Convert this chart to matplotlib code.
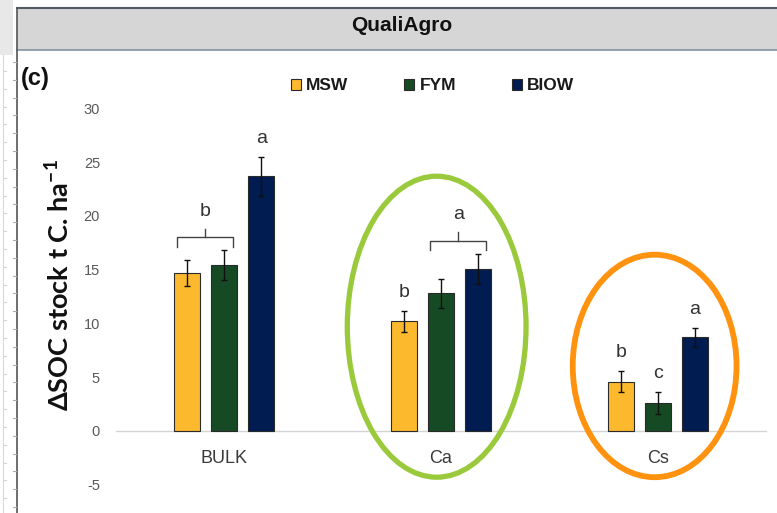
import numpy as np
import matplotlib
matplotlib.use('Agg')
import matplotlib.pyplot as plt
from matplotlib.patches import Ellipse, Rectangle
from matplotlib.lines import Line2D

plt.rcParams['font.family'] = ['Liberation Sans', 'DejaVu Sans']
plt.rcParams['mathtext.fontset'] = 'custom'
plt.rcParams['mathtext.rm'] = 'Lato'
plt.rcParams['mathtext.bf'] = 'Lato:bold'
plt.rcParams['axes.unicode_minus'] = False

# SOC stock change per fraction (t C / ha) with standard errors
categories = ['BULK', 'Ca', 'Cs']
series = ['MSW', 'FYM', 'BIOW']
msw = [14.7, 10.2, 4.6]
msw_err = [1.25, 1.0, 0.95]
fym = [15.4, 12.8, 2.6]
fym_err = [1.4, 1.35, 1.0]
biow = [23.7, 15.1, 8.7]
biow_err = [1.8, 1.4, 0.85]
colors = ['#FDB92E', '#164A24', '#001C50']

# significance letters: one per bar, and brackets shared by two bars
bar_letters = [['', '', 'a'], ['b', '', ''], ['b', 'c', 'a']]
brackets = [(0, 0, 1, 'b'), (1, 1, 2, 'a')]  # category, first bar, last bar, letter

values = [msw, fym, biow]
errors = [msw_err, fym_err, biow_err]

W, H = 777, 513
fig = plt.figure(figsize=(W / 100, H / 100), dpi=100)
fig.patch.set_facecolor('white')

def px(x, y):
    return x / W, 1 - y / H

# plot area: y=30 at 107 px, bottom edge of image at 513 px
ax = fig.add_axes([116 / W, 0, 650 / W, 406 / H])
ax.set_xlim(-0.5, 2.5)
ax.set_ylim(-7.63, 30.14)
ax.set_facecolor('none')

x = np.arange(len(categories))
step, width = 0.17, 0.12
bars = []
for j, name in enumerate(series):
    b = ax.bar(x + (j - 1) * step, values[j], width, color=colors[j],
               edgecolor='#2a2a2a', linewidth=0.8, label=name, zorder=3)
    ax.errorbar(x + (j - 1) * step, values[j], yerr=errors[j], fmt='none',
                ecolor='#111111', elinewidth=1, capsize=2.5, capthick=1, zorder=4)
    bars.append(b)

# letters above single bars
for i in range(len(categories)):
    for j in range(len(series)):
        lab = bar_letters[i][j]
        if lab:
            ax.text(x[i] + (j - 1) * step, values[j][i] + errors[j][i] + 1.3, lab,
                    ha='center', va='baseline', fontsize=14, color='#333333')

# brackets grouping two bars
for i, j0, j1, lab in brackets:
    top = max(values[j][i] + errors[j][i] for j in (j0, j1))
    yb = top + 1.2
    x0 = x[i] + (j0 - 1) * step - 0.05
    x1 = x[i] + (j1 - 1) * step + 0.04
    xm = (x0 + x1) / 2
    ax.plot([x0, x0, x1, x1], [yb - 0.9, yb, yb, yb - 0.9], color='#444444', lw=1, zorder=3)
    ax.plot([xm, xm], [yb, yb + 0.8], color='#444444', lw=1, zorder=3)
    ax.text(xm, yb + 2.0, lab, ha='center', va='baseline', fontsize=14, color='#333333')

# highlight rings around the Ca and Cs groups
ax.add_patch(Ellipse((x[1] - 0.02, 9.7), 0.825, 28.0, fill=False,
                     edgecolor='#9ACA3C', linewidth=3.8, zorder=5, clip_on=False))
ax.add_patch(Ellipse((x[2] - 0.014, 6.05), 0.756, 20.7, fill=False,
                     edgecolor='#FF930F', linewidth=4.2, zorder=5, clip_on=False))

for s in ['top', 'right', 'left']:
    ax.spines[s].set_visible(False)
ax.spines['bottom'].set_position(('data', 0))
ax.spines['bottom'].set_color('#d4d4d4')
ax.spines['bottom'].set_linewidth(1)
ax.set_xticks(x)
ax.set_xticklabels(categories, fontsize=13, color='#3a3a3a')
ax.tick_params(axis='x', length=0, pad=13.5)
ax.set_yticks(np.arange(-5, 31, 5))
ax.tick_params(axis='y', length=0, pad=11.5, labelsize=10.5, labelcolor='#595959')

ax.set_ylabel('ΔSOC stock t C. ha$^{\\mathbf{-1}}$', fontsize=19.5, fontweight='bold',
              family=['Lato', 'DejaVu Sans'], color='#111111')
ax.yaxis.set_label_coords(-0.065, 0.562)

leg = fig.legend(handles=bars, labels=series, loc='center', bbox_to_anchor=px(432.5, 86),
                 ncol=3, frameon=False, handlelength=0.6, handleheight=0.6,
                 handletextpad=0.3, columnspacing=3.2, borderpad=0,
                 prop={'weight': 'bold', 'size': 12.5})
for t in leg.get_texts():
    t.set_color('#1a1a1a')

# header band and panel frame
fig.add_artist(Rectangle(px(17, 50), (W - 17) / W, 42 / H, transform=fig.transFigure,
                         facecolor='#D6D6D6', edgecolor='none', zorder=0))
fig.add_artist(Line2D([17 / W, 1], [1 - 8 / H] * 2, color='#4F5B66', lw=1.5))
fig.add_artist(Line2D([17 / W, 1], [1 - 49.5 / H] * 2, color='#8393A3', lw=1.2))
fig.add_artist(Line2D([17 / W] * 2, [0, 1 - 8 / H], color='#555555', lw=1.2))
fig.text(*px(401.5, 31), 'QualiAgro', ha='center', va='baseline', fontsize=15,
         fontweight='bold', color='#111111')
fig.text(*px(21, 85), '(c)', ha='left', va='baseline', fontsize=17,
         fontweight='bold', color='#111111')

# spreadsheet margin on the left
fig.add_artist(Rectangle((0, 1 - 55 / H), 13 / W, 55 / H, transform=fig.transFigure,
                         facecolor='#E8E8E8', edgecolor='none', zorder=0))
fig.add_artist(Line2D([3 / W] * 2, [0, 1 - 55 / H], color='#dadada', lw=0.8))
for yy in np.arange(62, H, 17.8):
    fig.add_artist(Line2D([13 / W, 16 / W], [1 - yy / H] * 2, color='#b0b0b0', lw=0.8))
    fig.add_artist(Line2D([4 / W, 6 / W], [1 - (yy + 9) / H] * 2, color='#d4d4d4', lw=0.8))

fig.savefig('out.png', dpi=100)
